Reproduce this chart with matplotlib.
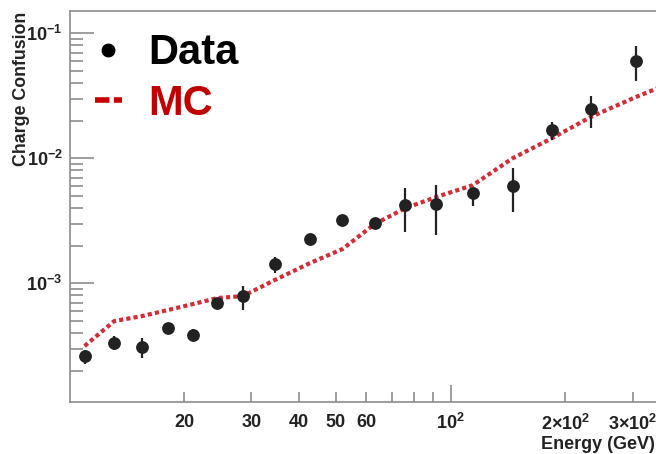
import matplotlib

matplotlib.use("Agg")
import matplotlib.pyplot as plt
import matplotlib.ticker as mticker
import numpy as np
from matplotlib.lines import Line2D

plt.rcParams["font.family"] = ["Liberation Sans", "DejaVu Sans"]
plt.rcParams["mathtext.fontset"] = "custom"
plt.rcParams["mathtext.rm"] = "Liberation Sans:bold"
plt.rcParams["mathtext.it"] = "Liberation Sans:bold:italic"
plt.rcParams["mathtext.bf"] = "Liberation Sans:bold"

# data points (energy in GeV, charge confusion), with lower / upper error edges
energy = [10.95, 13.1, 15.5, 18.1, 21.1, 24.4, 28.5, 34.5, 42.7, 52.0,
          63.2, 76.1, 91.6, 114.3, 145.3, 184.5, 233.0, 305.9]
confusion = [2.63e-4, 3.31e-4, 3.09e-4, 4.37e-4, 3.86e-4, 6.96e-4, 7.87e-4,
             1.44e-3, 2.25e-3, 3.19e-3, 3.05e-3, 4.25e-3, 4.31e-3, 5.31e-3,
             6.0e-3, 1.68e-2, 2.47e-2, 6.04e-2]
conf_low = [2.26e-4, 2.91e-4, 2.54e-4, 4.0e-4, 3.45e-4, 6.58e-4, 6.11e-4,
            1.22e-3, 2.09e-3, 2.91e-3, 2.82e-3, 2.59e-3, 2.43e-3, 4.18e-3,
            3.70e-3, 1.40e-2, 1.76e-2, 4.18e-2]
conf_high = [2.92e-4, 3.77e-4, 3.67e-4, 4.81e-4, 4.31e-4, 7.35e-4, 9.57e-4,
             1.63e-3, 2.42e-3, 3.52e-3, 3.27e-3, 5.82e-3, 6.08e-3, 5.6e-3,
             8.32e-3, 1.96e-2, 3.15e-2, 7.91e-2]

# MC curve
mc_energy = [10.95, 13.1, 15.5, 18.1, 21.1, 24.4, 28.5, 34.5, 42.7, 52.0,
             63.2, 76.1, 91.6, 114.3, 145.3, 184.5, 233.0, 305.9, 350.0]
mc_confusion = [3.15e-4, 4.99e-4, 5.47e-4, 6.11e-4, 6.83e-4, 7.62e-4, 7.91e-4,
                1.06e-3, 1.45e-3, 1.88e-3, 2.98e-3, 4.0e-3, 4.9e-3, 6.1e-3,
                1.0e-2, 1.45e-2, 2.14e-2, 3.09e-2, 3.65e-2]

x_labelled = [20, 30, 40, 50, 60, 200, 300]

fig = plt.figure(figsize=(6.56, 4.54), dpi=100)
ax = fig.add_axes([0.106, 0.1152, 0.9, 0.8599])

conf = np.array(confusion)
yerr = [conf - np.array(conf_low), np.array(conf_high) - conf]
ax.errorbar(energy, confusion, yerr=yerr, fmt="o", color="#222222",
            ms=8.2, elinewidth=1.6, capsize=0, zorder=3)
ax.plot(mc_energy, mc_confusion, color="#d22d37", lw=3.0,
        linestyle=(0, (1.0, 0.75)), solid_capstyle="butt", zorder=2)

ax.set_xscale("log")
ax.set_yscale("log")
ax.set_xlim(10, 354)
ax.set_ylim(1.13e-4, 0.15)

spine_col = "#8c8c8c"
for s in ["left", "bottom", "top"]:
    ax.spines[s].set_color(spine_col)
    ax.spines[s].set_linewidth(1.2)
ax.spines["right"].set_visible(False)

ax.xaxis.set_major_locator(mticker.FixedLocator([100]))
ax.xaxis.set_minor_locator(mticker.LogLocator(base=10, subs=np.arange(2, 10)))


def xmajor(v, pos):
    return r"$10^{2}$"


def xminor(v, pos):
    for lab in x_labelled:
        if abs(v - lab) < 1e-6 * lab:
            if lab >= 100:
                return r"$%d{\times}10^{2}$" % (lab // 100)
            return "%d" % lab
    return ""


ax.xaxis.set_major_formatter(mticker.FuncFormatter(xmajor))
ax.xaxis.set_minor_formatter(mticker.FuncFormatter(xminor))
ax.yaxis.set_minor_formatter(mticker.NullFormatter())

ax.tick_params(axis="both", which="both", direction="in", color=spine_col,
               labelcolor="#222222", labelsize=13, width=1.2,
               top=False, right=False)
ax.tick_params(axis="x", which="major", length=12, pad=8)
ax.tick_params(axis="x", which="minor", length=7, pad=9)
ax.tick_params(axis="y", which="major", length=17, pad=5)
ax.tick_params(axis="y", which="minor", length=9)
for lab in ax.get_xticklabels(which="both") + ax.get_yticklabels():
    lab.set_fontweight("bold")

fig.text(0.0328, 0.974, "Charge Confusion", rotation=90, ha="center",
         va="top", fontsize=12.8, fontweight="bold", color="#222222")
fig.text(0.999, 0.022, "Energy (GeV)", ha="right", va="center",
         fontsize=13, fontweight="bold", color="#222222")

handles = [
    Line2D([], [], marker="o", color="black", ls="none", ms=9),
    Line2D([], [], color="#c80000", lw=4, ls=(0, (2.6, 0.8))),
]
leg = ax.legend(handles, ["Data", "MC"], loc="upper left",
                bbox_to_anchor=(0.043, 0.944), frameon=False,
                prop={"size": 30, "weight": "bold"}, handlelength=0.65,
                handletextpad=0.62, labelspacing=0.25,
                borderaxespad=0.0, borderpad=0.0)
leg.get_texts()[0].set_color("black")
leg.get_texts()[1].set_color("#c00000")

fig.savefig("out.png", dpi=100)
